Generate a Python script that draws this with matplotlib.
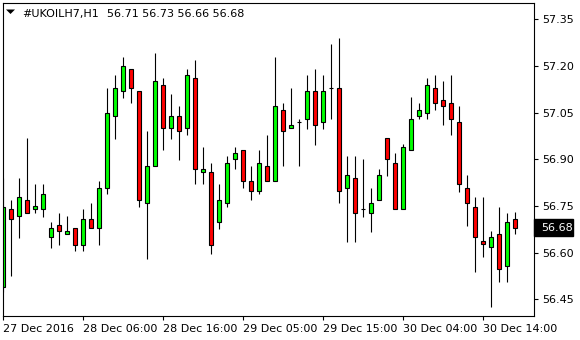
import matplotlib
matplotlib.use("Agg")
import matplotlib.pyplot as plt
from matplotlib.patches import Rectangle, Polygon
from matplotlib.transforms import blended_transform_factory

symbol = "#UKOILH7,H1"
header_ohlc = "56.71 56.73 56.66 56.68"

opens = [56.491, 56.740, 56.717, 56.769, 56.740, 56.740, 56.650, 56.688, 56.659, 56.679,
         56.626, 56.708, 56.679, 56.807, 57.039, 57.120, 57.190, 57.120, 56.759, 56.879,
         57.138, 57.000, 57.039, 57.000, 57.161, 56.859, 56.859, 56.698, 56.759, 56.900,
         56.929, 56.830, 56.798, 56.879, 56.830, 57.059, 57.000, 57.019, 57.029, 57.120,
         57.019, 57.129, 57.129, 56.807, 56.839, 56.740, 56.727, 56.769, 56.968, 56.888,
         56.740, 56.929, 57.039, 57.048, 57.129, 57.091, 57.081, 57.019, 56.807, 56.748,
         56.637, 56.618, 56.659, 56.556, 56.710]
highs = [56.839, 56.770, 56.839, 56.970, 56.821, 56.821, 56.699, 56.727, 56.718, 56.679,
         56.740, 56.759, 56.830, 57.129, 57.171, 57.228, 57.190, 57.120, 56.991, 57.241,
         57.161, 57.110, 57.072, 57.190, 57.220, 56.941, 56.888, 56.821, 56.912, 56.941,
         56.929, 56.879, 56.930, 56.979, 57.230, 57.081, 57.129, 57.030, 57.171, 57.190,
         57.171, 57.272, 57.290, 56.912, 56.912, 56.900, 56.807, 56.868, 56.968, 56.920,
         56.949, 57.102, 57.081, 57.161, 57.171, 57.151, 57.171, 57.071, 56.849, 56.778,
         56.778, 56.670, 56.748, 56.729, 56.730]
lows = [56.475, 56.526, 56.648, 56.727, 56.727, 56.716, 56.616, 56.626, 56.659, 56.607,
        56.607, 56.679, 56.626, 56.788, 56.967, 57.099, 57.081, 56.748, 56.579, 56.879,
        56.930, 56.967, 56.898, 56.978, 56.820, 56.820, 56.597, 56.676, 56.748, 56.868,
        56.807, 56.769, 56.788, 56.830, 56.830, 56.879, 57.000, 56.879, 56.999, 56.947,
        56.999, 57.029, 56.759, 56.636, 56.636, 56.716, 56.668, 56.769, 56.848, 56.740,
        56.740, 56.929, 57.029, 57.029, 57.058, 57.010, 56.978, 56.796, 56.687, 56.537,
        56.587, 56.427, 56.507, 56.507, 56.660]
closes = [56.748, 56.708, 56.778, 56.727, 56.749, 56.788, 56.679, 56.669, 56.669, 56.626,
          56.708, 56.679, 56.807, 57.048, 57.129, 57.200, 57.129, 56.769, 56.878, 57.152,
          57.000, 57.039, 56.990, 57.171, 56.868, 56.868, 56.626, 56.769, 56.888, 56.920,
          56.830, 56.798, 56.888, 56.830, 57.072, 56.990, 57.010, 57.019, 57.120, 57.010,
          57.120, 57.129, 56.798, 56.849, 56.727, 56.740, 56.759, 56.849, 56.900, 56.740,
          56.939, 57.029, 57.058, 57.138, 57.081, 57.071, 57.029, 56.820, 56.759, 56.650,
          56.627, 56.650, 56.547, 56.698, 56.680]

price_ticks = [56.45, 56.60, 56.75, 56.90, 57.05, 57.20, 57.35]
time_tick_bars = [0, 10, 20, 30, 40, 50, 60]
time_tick_labels = ["27 Dec 2016", "28 Dec 06:00", "28 Dec 16:00", "29 Dec 05:00",
                    "29 Dec 15:00", "30 Dec 04:00", "30 Dec 14:00"]
last_price = 56.68

W, H = 580, 340
fig = plt.figure(figsize=(W / 100, H / 100), dpi=100)
fig.patch.set_facecolor("white")
ax = fig.add_axes([2.5 / W, 1 - 316 / H, 531.5 / W, (316 - 2.7) / H])
ax.set_facecolor("white")

body_w = 0.56
lw = 0.8
for i, (o, h, l, c) in enumerate(zip(opens, highs, lows, closes)):
    ax.vlines(i, l, h, color="black", linewidth=lw, zorder=1)
    if abs(c - o) < 0.002:
        # doji
        ax.hlines(o, i - body_w / 2, i + body_w / 2, color="black", linewidth=lw, zorder=2)
        continue
    col = "#00ff00" if c > o else "#ff0000"
    ax.add_patch(Rectangle((i - body_w / 2, min(o, c)), body_w, abs(c - o),
                           facecolor=col, edgecolor="black", linewidth=lw, zorder=2))

ax.set_xlim(-0.0625, -0.0625 + 531.5 / 8)
ax.set_ylim(56.3966, 57.404)

for s in ax.spines.values():
    s.set_color("black")
    s.set_linewidth(0.8)

ax.yaxis.tick_right()
ax.set_yticks(price_ticks)
ax.set_yticklabels([f"{p:.2f}" for p in price_ticks])
ax.tick_params(axis="y", length=3, width=0.8, pad=3, labelsize=8, colors="black")
ax.set_xticks(time_tick_bars)
ax.set_xticklabels(time_tick_labels)
ax.tick_params(axis="x", length=3, width=0.8, pad=2.5, labelsize=8, colors="black")
for lbl in ax.get_xticklabels():
    lbl.set_horizontalalignment("left")

# current price box
tr = blended_transform_factory(ax.transAxes, ax.transData)
box_h = 17 / 311
ax.add_patch(Rectangle((1.0, last_price - box_h / 2), 39 / 531.5, box_h,
                       transform=tr, facecolor="black", edgecolor="black",
                       clip_on=False, zorder=5))
ax.text(1 + 7 / 531.5, last_price, f"{last_price:.2f}", transform=tr, color="white",
        fontsize=8, ha="left", va="center", zorder=6, clip_on=False)

# header
fig.patches.append(Polygon([[6 / W, 1 - 9.5 / H], [15 / W, 1 - 9.5 / H], [10.5 / W, 1 - 14 / H]],
                           closed=True, facecolor="black", edgecolor="none",
                           transform=fig.transFigure))
fig.text(22 / W, 1 - 17.3 / H, symbol, fontsize=8, ha="left", va="baseline", color="black")
fig.text(107 / W, 1 - 17.3 / H, header_ohlc, fontsize=8, ha="left", va="baseline", color="black")

fig.savefig("out.png", dpi=100)
